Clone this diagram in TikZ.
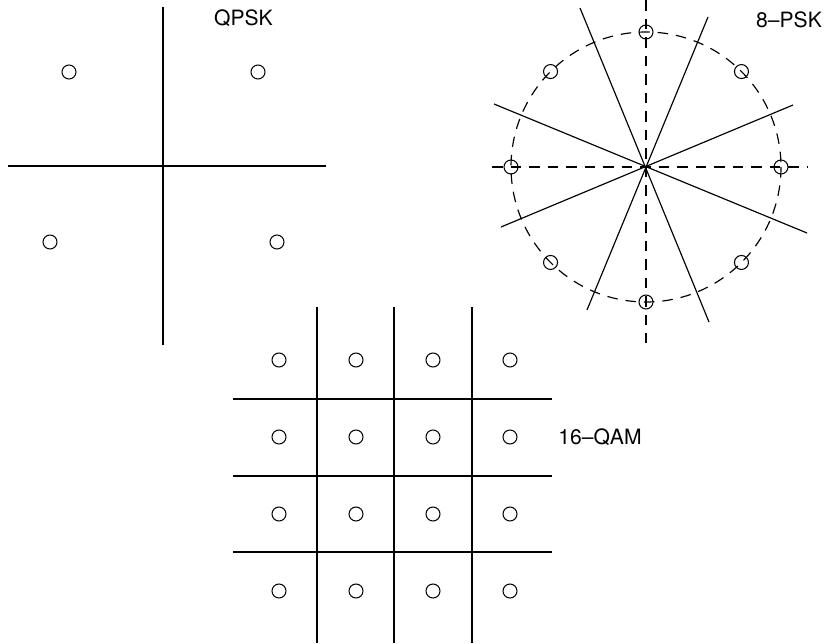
\documentclass[tikz,border=0pt]{standalone}
\usepackage{fontspec}
\setmainfont{TeX Gyre Heros}
\usepackage{tikz}
\usetikzlibrary{positioning,calc}

\begin{document}
\begin{tikzpicture}[x=0.3mm, y=-0.3mm, line width=1pt,
    every node/.style={font=\fontsize{18}{21}\selectfont},
    sym/.style={circle, draw, line width=0.9pt, minimum size=4.2mm, inner sep=0pt},
    dsh/.style={dash pattern=on 9pt off 6.8pt}]
\useasboundingbox (0,0) rectangle (833,643);

% QPSK
\draw (163,7) -- (163,345); % vertical axis
\draw (8,166) -- (326,166); % horizontal axis
\node[sym] (q1) at (69,72) {};
\node[sym] (q2) at (258,72) {};
\node[sym] (q3) at (50,242) {};
\node[sym] (q4) at (277,242) {};
\node (qpsk) at (243.5,18) {QPSK};

% 8-PSK
\coordinate (c8) at (646,167);
\draw[dsh] (646,0) -- (646,343); % vertical axis
\draw[dsh] (492,167) -- (808,167); % horizontal axis
\draw[dsh] (c8) circle (135);
\draw (580,8) -- (709,322);
\draw (708,17) -- (587,310);
\draw (494,104) -- (807,233);
\draw (793,105) -- (501,227);
\foreach \a in {0,45,...,315} {
    \node[sym] (s\a) at ([shift={(\a:135)}]c8) {};
}
\node (psk) at (789,20) {8–PSK};

% 16-QAM
\foreach \x in {317,394,472} {
    \draw (\x,307) -- (\x,643); % vertical
}
\foreach \y in {399,476,552} {
    \draw (233,\y) -- (552,\y); % horizontal
}
\foreach \i in {0,...,3} {
    \foreach \j in {0,...,3} {
        \node[sym] (m\i\j) at (279+77*\i,360+77*\j) {};
    }
}
\node (qam) at (600,437) {16–QAM};
\end{tikzpicture}
\end{document}
